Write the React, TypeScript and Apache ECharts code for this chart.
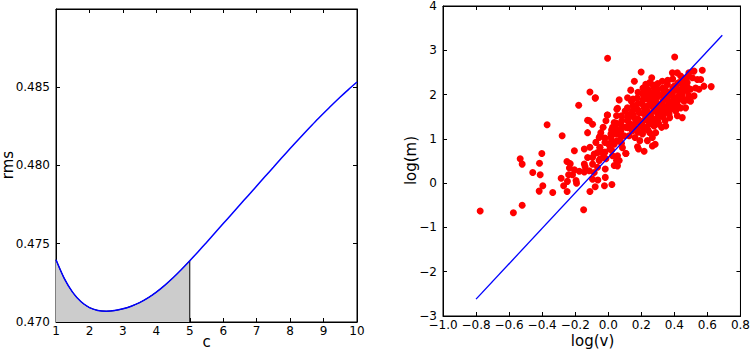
import React, { useEffect, useRef } from "react";
import * as echarts from "echarts";

// ---- Left panel: rms vs c ----
const cValues = [
  1, 1.25, 1.5, 1.75, 2, 2.25, 2.5, 2.75, 3, 3.25, 3.5, 3.75, 4, 4.25, 4.5, 4.75, 5, 5.25, 5.5, 5.75,
  6, 6.25, 6.5, 6.75, 7, 7.25, 7.5, 7.75, 8, 8.25, 8.5, 8.75, 9, 9.25, 9.5, 9.75, 10,
];
const rmsValues = [
  0.47397, 0.47277, 0.47189, 0.47129, 0.47092, 0.47074, 0.47069, 0.47073, 0.47084, 0.47101, 0.47124, 0.47154,
  0.47191, 0.47234, 0.47282, 0.47335, 0.47391, 0.47449, 0.47508, 0.47568,
  0.47628, 0.47688, 0.47748, 0.47808, 0.47868, 0.47928, 0.47988, 0.48048, 0.48107, 0.48165, 0.48222, 0.48278,
  0.48332, 0.48385, 0.48436, 0.48485, 0.48532,
];
const shadeEnd = 5;
const leftXTicks = { min: 1, max: 10, step: 1 };
const leftYTicks = { min: 0.47, max: 0.48998, step: 0.005 };

// ---- Right panel: log(m) vs log(v) ----
const fitV = [-0.8, 0.69];
const fitM = [-2.62, 3.34];
const rightXTicks = { min: -1, max: 0.8, step: 0.2 };
const rightYTicks = { min: -3, max: 4, step: 1 };

const scatterPoints: number[][] = [
  [-0.775, -0.63], [-0.574, -0.67], [-0.521, -0.5],
  [-0.533, 0.55], [-0.521, 0.43], [-0.402, 0.67], [-0.416, 0.45], [-0.457, 0.24], [-0.412, 0.19], [-0.396, -0.06], [-0.418, -0.18], [-0.336, -0.21],
  [-0.37, 1.32], [-0.279, 1.07],
  [-0.285, 0.11], [-0.249, -0.19], [-0.27, -0.06], [-0.247, 0.04], [-0.195, 0.06], [-0.192, 0.0], [-0.24, 0.19], [-0.216, 0.19], [-0.25, 0.49], [-0.23, 0.44], [-0.205, 0.73], [-0.235, 0.34], [-0.205, 0.3], [-0.175, 0.27], [-0.145, 0.43], [-0.145, 0.25], [-0.125, 0.58], [-0.14, 0.37], [-0.149, -0.6],
  [-0.125, 1.42], [-0.125, 1.14], [-0.179, 1.76], [-0.111, 2.06], [-0.079, 1.92],
  [-0.145, 0.77], [-0.111, 0.81], [-0.095, 0.58], [-0.095, 0.43], [-0.115, 0.28], [-0.085, 0.24], [-0.095, 0.09], [-0.063, 0.07], [-0.111, -0.19], [-0.079, -0.08],
  [-0.075, 0.92], [-0.055, 1.03], [-0.051, 0.81], [-0.039, 0.69], [-0.031, 1.26], [-0.014, 1.41], [-0.006, 1.54], [-0.045, 1.14], [-0.025, 0.58], [-0.018, 0.32], [-0.023, -0.06], [-0.018, 0.13], [-0.065, 0.69], [-0.085, 0.66], [-0.055, 0.51], [-0.065, 0.36], [-0.004, 2.82],
  [-0.078, 1.93], [-0.004, 1.54], [-0.115, 1.41], [-0.095, 1.33],
  [0.002, 0.88], [0.01, 0.77], [0.016, 1.11], [0.022, -0.03], [0.026, 1.26], [0.036, 1.37], [0.05, 1.52], [0.066, 1.88], [0.052, 1.67], [0.056, 1.11], [0.066, 0.96], [0.036, 0.88], [0.05, 0.51], [0.056, 0.39], [0.026, 0.62], [0.086, 0.8], [0.106, 0.67], [0.096, 1.07], [0.106, 1.26], [0.082, 1.41], [0.116, 1.48], [0.102, 1.63], [0.016, 1.03], [0.042, 1.14], [0.076, 1.18], [0.056, 1.69], [0.117, 1.93], [0.046, 1.11], [0.056, 0.62], [-0.014, 0.55], [0.066, 0.51], [0.036, 0.4], [0.107, 0.67],
  [0.136, 2.1], [0.158, 2.3], [0.14, 1.85], [0.162, 1.74], [0.176, 1.92], [0.146, 1.63], [0.126, 1.52], [0.156, 1.48], [0.187, 1.59], [0.166, 1.37], [0.136, 1.33], [0.146, 1.18], [0.176, 1.22], [0.197, 1.33], [0.207, 1.11], [0.183, 0.77], [0.217, 0.72], [0.162, 1.03], [0.126, 1.07], [0.191, 0.96], [0.116, 1.7], [0.207, 1.78], [0.207, 1.14], [0.177, 0.82],
  [0.199, 2.51], [0.227, 2.23], [0.251, 2.27], [0.277, 2.16], [0.243, 2.04], [0.267, 1.97], [0.297, 2.04], [0.227, 1.92], [0.217, 1.7], [0.237, 1.63], [0.257, 1.81], [0.287, 1.85], [0.307, 1.7], [0.277, 1.63], [0.257, 1.52], [0.227, 1.48], [0.287, 1.44], [0.317, 1.52], [0.247, 1.33], [0.277, 1.29], [0.307, 1.33], [0.251, 1.14], [0.287, 1.14], [0.267, 1.03], [0.267, 0.84], [0.237, 0.96], [0.223, 1.26], [0.217, 2.08], [0.263, 2.38], [0.284, 0.88],
  [0.327, 2.3], [0.358, 2.23], [0.388, 2.49], [0.344, 2.1], [0.372, 2.0], [0.398, 2.19], [0.338, 1.92], [0.368, 1.85], [0.398, 1.92], [0.327, 1.78], [0.352, 1.7], [0.384, 1.74], [0.412, 1.81], [0.338, 1.59], [0.368, 1.56], [0.344, 1.41], [0.348, 1.29], [0.372, 1.48], [0.323, 1.26], [0.408, 1.63], [0.402, 2.85],
  [0.418, 2.49], [0.438, 2.42], [0.464, 2.34], [0.428, 2.27], [0.452, 2.19], [0.478, 2.27], [0.424, 2.08], [0.448, 2.0], [0.478, 2.08], [0.428, 1.89], [0.458, 1.85], [0.488, 1.97], [0.438, 1.7], [0.468, 1.7], [0.418, 1.52], [0.448, 1.48], [0.498, 2.12], [0.509, 2.38], [0.488, 2.49],
  [0.519, 2.53], [0.539, 2.34], [0.529, 2.15], [0.559, 2.34], [0.569, 2.55], [0.579, 2.19], [0.623, 2.18], [0.519, 1.97], [0.498, 1.85], [0.549, 2.12],
  [0.12, 1.4], [0.12, 1.55], [0.12, 1.25],
  [0.15, 1.3], [0.15, 1.55], [0.15, 1.75], [0.15, 1.9],
  [0.18, 1.45], [0.18, 1.65], [0.18, 1.8], [0.18, 2.05], [0.18, 1.15],
  [0.21, 1.4], [0.21, 1.58], [0.21, 1.88], [0.21, 2.0], [0.21, 2.15], [0.21, 1.25],
  [0.24, 1.42], [0.24, 1.55], [0.24, 1.75], [0.24, 1.9], [0.24, 2.12], [0.24, 1.2],
  [0.27, 1.45], [0.27, 1.72], [0.27, 1.88], [0.27, 2.05], [0.27, 2.22], [0.27, 1.38],
  [0.3, 1.55], [0.3, 1.62], [0.3, 1.78], [0.3, 1.95], [0.3, 2.12], [0.3, 2.25], [0.3, 1.4],
  [0.33, 1.5], [0.33, 1.68], [0.33, 1.85], [0.33, 2.02], [0.33, 2.15],
  [0.36, 1.62], [0.36, 1.75], [0.36, 1.95], [0.36, 2.06], [0.36, 2.32],
  [0.39, 1.68], [0.39, 1.82], [0.39, 2.05], [0.39, 2.15], [0.39, 2.35],
  [0.42, 1.75], [0.42, 1.95], [0.42, 2.12], [0.42, 2.25],
  [0.45, 1.92], [0.45, 2.08], [0.45, 2.3],
  [0.48, 1.88], [0.48, 2.16], [0.48, 2.4],
  [0.05, 0.95], [0.05, 1.22], [0.05, 1.35],
  [0.08, 1.05], [0.08, 1.3], [0.08, 1.52], [0.08, 0.9],
  [0.02, 0.75], [0.02, 0.95], [0.02, 1.2],
  [-0.02, 0.7], [-0.02, 0.92], [-0.02, 1.02],
  [-0.05, 0.55], [-0.05, 0.8], [-0.05, 1.06],
];

const FONT = "DejaVu Sans";
const TICK_FS = 12;
const NAME_FS = 15;

const minusFmt = (v: number, digits: number) => {
  const s = Math.abs(v) < 1e-9 ? (0).toFixed(digits) : Math.abs(v).toFixed(digits);
  return (v < -1e-9 ? "\u2212" : "") + s;
};

function makeAxis(gridIndex: number, t: { min: number; max: number; step: number }, position: string, labels: boolean, fmt: (v: number) => string, showMax: boolean) {
  return {
    type: "value",
    gridIndex,
    position,
    min: t.min,
    max: t.max,
    interval: t.step,
    axisLine: { show: true, onZero: false, lineStyle: { color: "#000", width: 1 } },
    axisTick: { show: true, inside: true, length: 4, lineStyle: { color: "#000", width: 1 } },
    splitLine: { show: false },
    axisLabel: {
      show: labels,
      color: "#000",
      fontFamily: FONT,
      fontSize: TICK_FS,
      margin: position === "left" ? 6 : 3,
      showMinLabel: true,
      showMaxLabel: showMax,
      hideOverlap: false,
      formatter: fmt,
    },
  };
}

export default function App() {
  const ref = useRef<HTMLDivElement>(null);
  useEffect(() => {
    if (!ref.current) return;
    const chart = echarts.init(ref.current, null, { renderer: "svg" });
    const curve = cValues.map((c, i) => [c, rmsValues[i]]);
    const shade = curve.filter((p) => p[0] <= shadeEnd);
    const endVal = rmsValues[cValues.indexOf(shadeEnd)];
    const fitLine = fitV.map((v, i) => [v, fitM[i]]);

    const lx = (v: number) => String(Math.round(v));
    const ly = (v: number) => v.toFixed(3);
    const rx = (v: number) => minusFmt(v, 1);
    const ry = (v: number) => minusFmt(v, 0);

    chart.setOption({
      animation: false,
      backgroundColor: "#fff",
      grid: [
        { left: 56, top: 9, width: 301, height: 313, show: true, borderColor: "#000", borderWidth: 1, backgroundColor: "transparent" },
        { left: 443, top: 5, width: 299, height: 311, show: true, borderColor: "#000", borderWidth: 1, backgroundColor: "transparent" },
      ],
      xAxis: [
        makeAxis(0, leftXTicks, "bottom", true, lx, true),
        makeAxis(0, leftXTicks, "top", false, lx, true),
        makeAxis(1, rightXTicks, "bottom", true, rx, true),
        makeAxis(1, rightXTicks, "top", false, rx, true),
      ],
      yAxis: [
        makeAxis(0, leftYTicks, "left", true, ly, false),
        makeAxis(0, leftYTicks, "right", false, ly, false),
        makeAxis(1, rightYTicks, "left", true, ry, true),
        makeAxis(1, rightYTicks, "right", false, ry, true),
      ],
      series: [
        {
          type: "line",
          xAxisIndex: 0,
          yAxisIndex: 0,
          data: shade,
          smooth: 0.3,
          showSymbol: false,
          lineStyle: { color: "#000", width: 1 },
          areaStyle: { color: "#cccccc", opacity: 1, origin: "start" },
          z: 1,
        },
        {
          type: "line",
          xAxisIndex: 0,
          yAxisIndex: 0,
          data: [[shadeEnd, leftYTicks.min], [shadeEnd, endVal]],
          showSymbol: false,
          lineStyle: { color: "#000", width: 1 },
          z: 2,
        },
        {
          type: "line",
          xAxisIndex: 0,
          yAxisIndex: 0,
          data: curve,
          smooth: 0.3,
          showSymbol: false,
          lineStyle: { color: "#0000ff", width: 1.5 },
          z: 3,
        },
        {
          type: "scatter",
          xAxisIndex: 2,
          yAxisIndex: 2,
          data: scatterPoints,
          symbolSize: 7,
          itemStyle: { color: "#ff0000", opacity: 1 },
          z: 2,
        },
        {
          type: "line",
          xAxisIndex: 2,
          yAxisIndex: 2,
          data: fitLine,
          showSymbol: false,
          lineStyle: { color: "#0000ff", width: 1.3 },
          z: 3,
        },
      ],
      graphic: [
        { type: "text", x: 206.5, y: 342, style: { text: "c", fontFamily: FONT, fontSize: NAME_FS, fill: "#000", align: "center", verticalAlign: "middle" } },
        { type: "text", x: 8, y: 165, rotation: Math.PI / 2, style: { text: "rms", fontFamily: FONT, fontSize: NAME_FS, fill: "#000", align: "center", verticalAlign: "middle" } },
        { type: "text", x: 592.5, y: 341, style: { text: "log(v)", fontFamily: FONT, fontSize: NAME_FS, fill: "#000", align: "center", verticalAlign: "middle" } },
        { type: "text", x: 411, y: 160.5, rotation: Math.PI / 2, style: { text: "log(m)", fontFamily: FONT, fontSize: NAME_FS, fill: "#000", align: "center", verticalAlign: "middle" } },
      ],
    });
    return () => chart.dispose();
  }, []);
  return <div ref={ref} style={{ position: "fixed", left: 0, top: 0, width: 753, height: 352 }} />;
}
